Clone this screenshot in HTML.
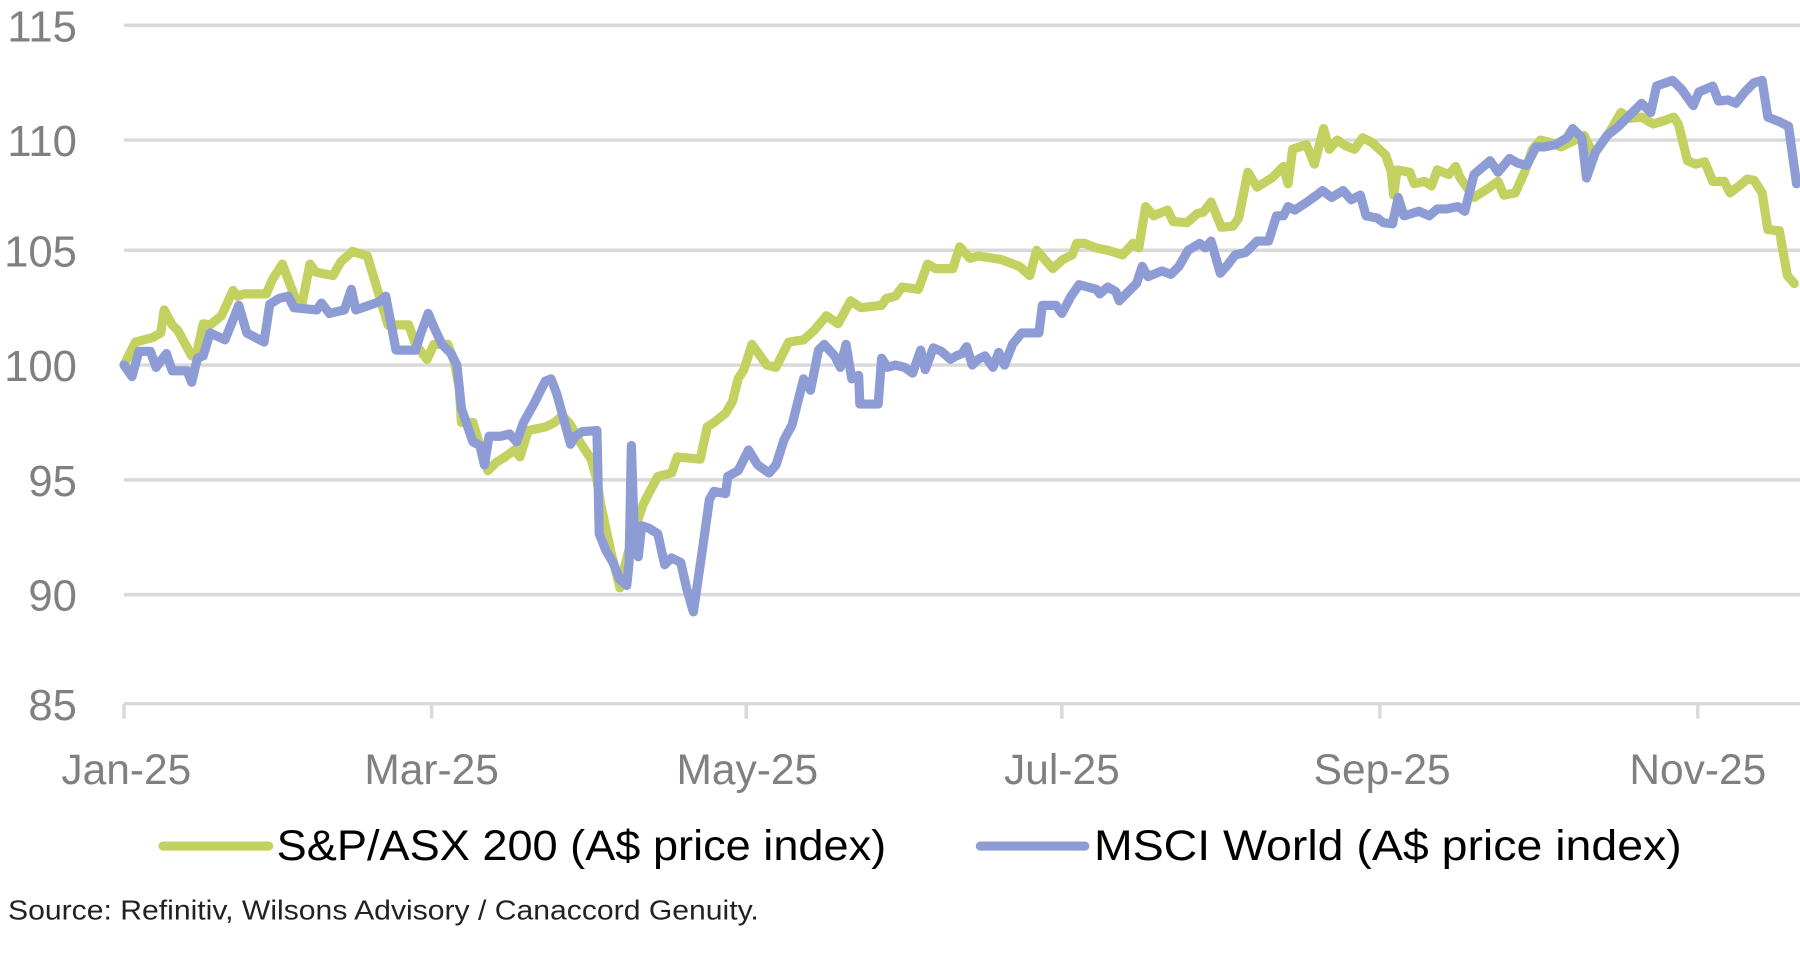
<!DOCTYPE html>
<html><head><meta charset="utf-8"><style>html,body{margin:0;padding:0;background:#fff}svg{display:block}</style></head>
<body>
<svg width="1800" height="965" viewBox="0 0 1568 840.6" xmlns="http://www.w3.org/2000/svg" font-family="Liberation Sans, sans-serif">
<g stroke="#d9d9d9" stroke-width="3">
<line x1="108" x2="1568" y1="22" y2="22"/><line x1="108" x2="1568" y1="122" y2="122"/><line x1="108" x2="1568" y1="218" y2="218"/><line x1="108" x2="1568" y1="318" y2="318"/><line x1="108" x2="1568" y1="418" y2="418"/><line x1="108" x2="1568" y1="518" y2="518"/><line x1="108" x2="1568" y1="613" y2="613"/>
<line x1="108" x2="108" y1="613" y2="626"/><line x1="376" x2="376" y1="613" y2="626"/><line x1="650" x2="650" y1="613" y2="626"/><line x1="925" x2="925" y1="613" y2="626"/><line x1="1202" x2="1202" y1="613" y2="626"/><line x1="1479" x2="1479" y1="613" y2="626"/>
</g>
<g fill="#808080" font-size="38" text-anchor="end">
<text x="67" y="36">115</text><text x="67" y="136">110</text><text x="67" y="232">105</text><text x="67" y="332">100</text><text x="67" y="432">95</text><text x="67" y="532">90</text><text x="67" y="627">85</text>
</g>
<g fill="#808080" font-size="37" text-anchor="middle">
<text x="110" y="683">Jan-25</text><text x="376" y="683">Mar-25</text><text x="651" y="683">May-25</text><text x="925" y="683">Jul-25</text><text x="1204" y="683">Sep-25</text><text x="1479" y="683">Nov-25</text>
</g>
<g fill="none" stroke-width="8" stroke-linejoin="round" stroke-linecap="round">
<polyline stroke="#c3d160" points="108,318 118,298 133,294 140,290 143,270 150,283 155,288 167,310 172,305 177,282 183,283 193,275 203,253 207,258 212,256 232,256 237,244 246,230 258,262 263,265 270,230 275,237 290,240 297,228 307,219 320,223 326,243 338,283 356,283 362,300 372,313 378,300 390,300 396,316 400,338 402,368 412,368 418,388 425,410 432,403 440,398 448,392 453,398 460,375 475,372 483,368 490,362 497,370 505,385 515,400 520,418 523,438 532,480 540,512 545,490 553,460 560,440 565,430 573,415 585,412 590,398 610,400 616,372 622,368 632,360 638,350 643,330 648,322 655,300 668,318 676,320 687,298 700,296 709,288 720,275 730,282 741,262 750,268 768,266 772,260 780,258 786,250 800,252 808,230 815,234 830,234 836,215 845,225 852,223 872,226 888,232 897,240 903,218 917,234 926,226 934,222 938,212 945,212 955,216 965,218 978,222 987,212 992,216 998,180 1005,188 1012,185 1017,183 1022,193 1034,194 1043,186 1048,185 1055,176 1064,198 1074,197 1079,190 1087,150 1095,163 1108,155 1118,145 1122,160 1126,130 1138,126 1145,143 1153,112 1158,130 1165,122 1172,127 1180,130 1187,120 1195,124 1207,135 1212,150 1214,170 1217,148 1228,150 1232,160 1241,158 1247,162 1252,148 1262,152 1268,145 1272,155 1284,172 1295,165 1305,158 1310,170 1320,168 1328,150 1335,130 1342,122 1350,124 1360,128 1370,123 1380,118 1388,135 1396,124 1404,112 1412,98 1420,103 1430,102 1440,108 1450,105 1458,102 1462,108 1470,140 1477,143 1485,141 1492,158 1502,158 1507,168 1515,162 1522,156 1528,157 1535,168 1540,200 1550,201 1557,240 1563,247"/>
<polyline stroke="#8e9cd6" points="108,318 115,328 121,306 131,306 136,320 141,313 145,308 150,323 163,323 167,333 172,312 177,310 183,290 196,296 208,266 215,290 230,298 235,265 243,260 251,258 256,268 276,270 280,264 287,273 300,270 306,252 310,270 330,263 336,258 345,305 362,305 366,292 373,273 378,285 385,300 393,308 398,318 402,356 412,385 418,388 422,405 426,380 436,380 444,378 450,385 456,368 465,352 475,332 480,330 485,343 497,387 501,380 507,376 520,375 522,465 528,480 534,490 540,505 546,510 548,490 550,388 553,480 556,485 559,458 565,460 573,465 579,492 585,486 593,490 598,512 604,533 612,478 618,435 622,428 632,430 634,415 643,410 652,392 660,405 670,412 676,405 683,383 690,370 700,330 706,340 713,305 718,300 727,310 732,320 737,300 742,330 748,327 749,352 765,352 768,312 773,320 780,318 788,320 795,325 802,305 806,322 813,303 820,306 828,313 833,310 838,308 842,302 847,318 852,313 858,310 865,320 870,307 875,318 882,300 890,290 905,290 908,266 920,266 925,273 933,258 940,248 955,252 958,256 965,250 972,254 975,262 980,257 990,247 995,232 1000,241 1012,236 1020,239 1027,232 1035,218 1045,212 1050,216 1055,210 1063,238 1070,230 1076,222 1085,220 1095,210 1105,210 1112,188 1118,188 1122,180 1128,183 1140,175 1147,170 1152,166 1160,172 1170,166 1177,174 1185,170 1190,188 1200,190 1205,194 1213,195 1218,172 1223,188 1236,184 1245,188 1252,182 1260,182 1270,180 1276,184 1284,152 1298,140 1305,150 1315,138 1322,142 1330,144 1338,128 1345,128 1355,126 1365,120 1370,112 1378,120 1382,155 1390,132 1400,118 1410,110 1420,100 1430,90 1438,98 1443,75 1457,70 1465,78 1475,92 1480,80 1492,75 1497,88 1505,87 1512,90 1520,80 1528,72 1535,70 1540,102 1550,106 1558,110 1565,160"/>
<line x1="142" x2="234" y1="737" y2="737" stroke="#c3d160"/>
<line x1="854" x2="945" y1="737" y2="737" stroke="#8e9cd6"/>
</g>
<g fill="#000" font-size="37">
<text x="241" y="749" textLength="531" lengthAdjust="spacingAndGlyphs">S&amp;P/ASX 200 (A$ price index)</text>
<text x="953" y="749" textLength="512" lengthAdjust="spacingAndGlyphs">MSCI World (A$ price index)</text>
</g>
<text x="7" y="801" font-size="24" fill="#222" textLength="654" lengthAdjust="spacingAndGlyphs">Source: Refinitiv, Wilsons Advisory / Canaccord Genuity.</text>
</svg>
</body></html>
